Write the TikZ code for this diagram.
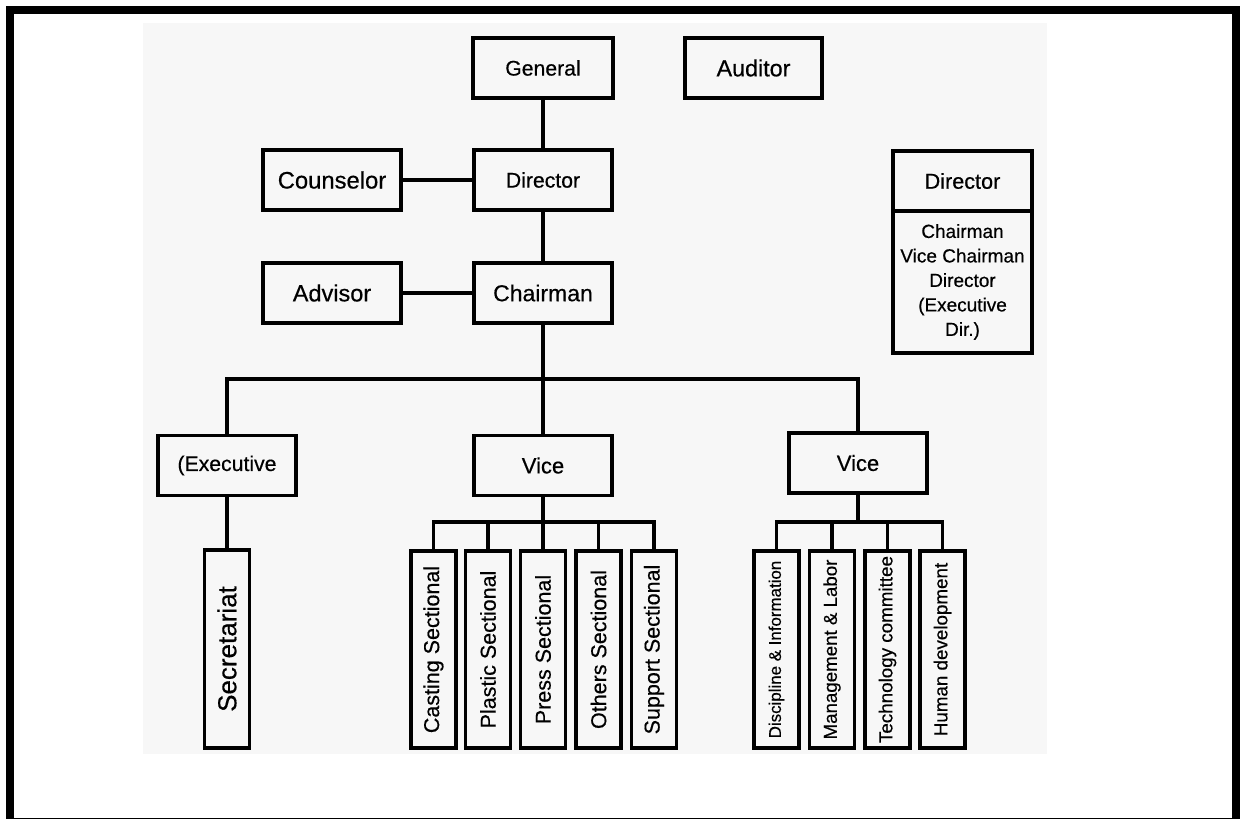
\documentclass[tikz,border=0pt]{standalone}
\usepackage{fontspec}
\setmainfont[FakeBold=0.45]{Liberation Sans}
\definecolor{bggray}{RGB}{247,247,247}
\newcommand{\fs}[1]{\fontsize{#1}{#1}\selectfont}
\tikzset{
  conn/.style={line width=3.2pt},
  hbox/.style={draw, line width=3.2pt, minimum width=138pt, minimum height=60pt, inner sep=0pt,
    font=\fs{22}},
  vbox/.style={draw, line width=3.2pt, rotate=90, minimum width=197pt, minimum height=45pt, inner sep=0pt,
    font=\fs{21.5}},
  sbox/.style={vbox, font=\fs{18.8}}
}
\begin{document}
\begin{tikzpicture}[x=1pt,y=-1pt]
\useasboundingbox (0,0) rectangle (1242,819);
\fill[bggray] (143,23) rectangle (1047,754);
\begin{scope}
\clip (0,0) rectangle (1242,819);
\draw[line width=8pt] (10,10) rectangle (1236,822);
\end{scope}

% top rows
\node[hbox, minimum width=140pt, font=\fs{21.2}] (general) at (543,68) {General};
\node[hbox, minimum width=137pt, font=\fs{23.3}] (auditor) at (753.5,68) {Auditor};
\node[hbox, font=\fs{23.8}] (counselor) at (332,180) {Counselor};
\node[hbox, font=\fs{21.2}] (director) at (543,180) {Director};
\node[hbox, font=\fs{23.5}] (advisor) at (332,293) {Advisor};
\node[hbox, font=\fs{23}] (chairman) at (543,293) {Chairman};

% legend box
\node[hbox, minimum width=139pt, font=\fs{21.6}] (ldir) at (962.5,181) {Director};
\node[draw, line width=3.2pt, minimum width=139pt, minimum height=142pt, inner sep=0pt, align=center,
  font=\fontsize{19}{24.5}\selectfont] (lbody) at (962.5,282)
  {Chairman\\Vice Chairman\\Director\\(Executive\\Dir.)};

% second level
\node[hbox, font=\fs{21.2}] (exec) at (227,465.5) {(Executive};
\node[hbox] (vicem) at (543,465.5) {Vice};
\node[hbox] (vicer) at (858,463) {Vice};

% vertical boxes
\node[vbox, minimum width=198pt, font=\fs{26}] (secr) at (227,649) {Secretariat};
\node[vbox] (casting) at (433.5,649.5) {Casting Sectional};
\node[vbox] (plastic) at (488,649.5) {Plastic Sectional};
\node[vbox] (press) at (543,649.5) {Press Sectional};
\node[vbox] (others) at (598.5,649.5) {Others Sectional};
\node[vbox] (support) at (654,649.5) {Support Sectional};
\node[sbox, font=\fs{16.9}] (disc) at (776.5,649.5) {Discipline \& Information};
\node[sbox, font=\fs{18.7}] (mgmt) at (832,649.5) {Management \& Labor};
\node[sbox] (tech) at (887.5,649.5) {Technology committee};
\node[sbox] (human) at (942.5,649.5) {Human development};

% connectors
\coordinate (bus) at (543,379);
\coordinate (busm) at (543,522);
\coordinate (busr) at (858,522);

\draw[conn] (general.south) -- (director.north);
\draw[conn] (director.south) -- (chairman.north);
\draw[conn] (counselor.east) -- (director.west);
\draw[conn] (advisor.east) -- (chairman.west);
\draw[conn] (chairman.south) -- (vicem.north);
\draw[conn] (exec.north) |- (bus) -| (vicer.north);
\draw[conn] (exec.south) -- (secr.east);

\draw[conn] (vicem.south) -- (press.east);
\draw[conn] (casting.east) |- (busm) -| (support.east);
\draw[conn] (plastic.east) -- (plastic.east |- busm);
\draw[conn] (others.east) -- (others.east |- busm);

\draw[conn] (vicer.south) -- (busr);
\draw[conn] (disc.east) |- (busr) -| (human.east);
\draw[conn] (mgmt.east) -- (mgmt.east |- busr);
\draw[conn] (tech.east) -- (tech.east |- busr);
\end{tikzpicture}
\end{document}
